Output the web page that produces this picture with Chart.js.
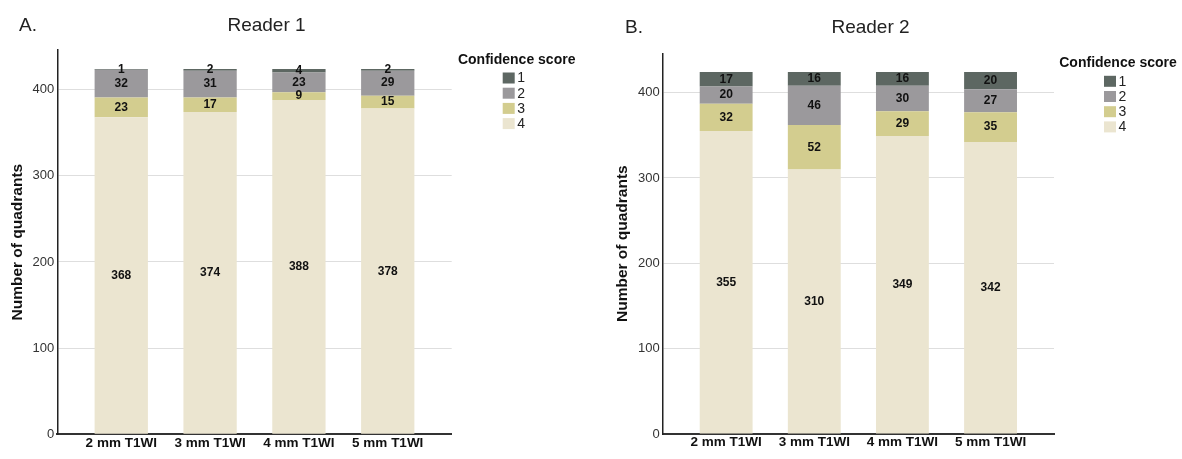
<!DOCTYPE html>
<html>
<head>
<meta charset="utf-8">
<title>Confidence score per reader</title>
<script src="https://cdn.jsdelivr.net/npm/chart.js@4.4.1/dist/chart.umd.min.js"></script>
<style>
  html, body { margin: 0; padding: 0; background: #fff; }
  body { width: 1182px; height: 459px; position: relative; overflow: hidden; }
  canvas { position: absolute; top: 0; }
  #chartReader1 { left: 0; }
  #chartReader2 { left: 605px; }
</style>
</head>
<body>
<canvas id="chartReader1" width="600" height="459"></canvas>
<canvas id="chartReader2" width="577" height="459"></canvas>
<script>
// ==================== DATOS ====================
const categories = ['2 mm T1WI', '3 mm T1WI', '4 mm T1WI', '5 mm T1WI'];
const scoreLabels = ['1', '2', '3', '4'];
const scoreColors = ['#5d6762', '#9b999c', '#d3cd8f', '#ebe5d0'];
const yTicks = [0, 100, 200, 300, 400];

// Reader 1
const r1Score1 = [1, 2, 4, 2];
const r1Score2 = [32, 31, 23, 29];
const r1Score3 = [23, 17, 9, 15];
const r1Score4 = [368, 374, 388, 378];

// Reader 2
const r2Score1 = [17, 16, 16, 20];
const r2Score2 = [20, 46, 30, 27];
const r2Score3 = [32, 52, 29, 35];
const r2Score4 = [355, 310, 349, 342];

const FONT = "'Liberation Sans', Arial, sans-serif";
Chart.defaults.font.family = FONT;

// ==================== PLUGINS ====================
// numbers inside each segment
const segmentValues = {
    id: 'segmentValues',
    afterDatasetsDraw(chart) {
        const { ctx } = chart;
        ctx.save();
        ctx.font = 'bold 12px ' + FONT;
        ctx.fillStyle = '#111';
        ctx.textAlign = 'center';
        ctx.textBaseline = 'middle';
        chart.data.datasets.forEach((ds, di) => {
            chart.getDatasetMeta(di).data.forEach((bar, i) => {
                ctx.fillText(ds.data[i].y, bar.x, (bar.y + bar.base) / 2);
            });
        });
        ctx.restore();
    }
};

// panel letter, title and the legend on the right
const panelDecor = {
    id: 'panelDecor',
    afterDraw(chart, args, opts) {
        const { ctx, chartArea } = chart;
        ctx.save();
        ctx.fillStyle = '#222';
        ctx.font = '19px ' + FONT;
        ctx.textBaseline = 'alphabetic';
        ctx.textAlign = 'left';
        ctx.fillText(opts.letter, opts.letterX, opts.baseline);
        ctx.textAlign = 'center';
        ctx.fillText(opts.title, opts.titleX, opts.baseline);

        const cx = chartArea.right + opts.legendDx;
        ctx.font = 'bold 14px ' + FONT;
        ctx.textBaseline = 'middle';
        ctx.fillStyle = '#111';
        ctx.fillText('Confidence score', cx, chartArea.top + 10);

        ctx.font = '14px ' + FONT;
        ctx.textAlign = 'left';
        chart.data.datasets.slice().reverse().forEach((ds, i) => {
            const by = chartArea.top + 22.5 + i * 15.2;
            ctx.fillStyle = ds.backgroundColor;
            ctx.fillRect(cx - 14, by, 12, 11);
            ctx.fillStyle = '#222';
            ctx.fillText(ds.label, cx + 0.5, by + 6);
        });
        ctx.restore();
    }
};

// ==================== GRÁFICOS ====================
function toPoints(values) {
    return values.map((v, i) => ({ x: i, y: v }));
}

function makeChart(canvasId, series, panel) {
    // stack order: score 4 at the bottom, score 1 on top
    const datasets = [3, 2, 1, 0].map(k => ({
        label: scoreLabels[k],
        data: toPoints(series[k]),
        backgroundColor: scoreColors[k],
        borderWidth: 0,
        categoryPercentage: 1,
        barPercentage: 0.6
    }));

    return new Chart(document.getElementById(canvasId), {
        type: 'bar',
        data: { datasets },
        plugins: [segmentValues, panelDecor],
        options: {
            responsive: false,
            animation: false,
            layout: { padding: { top: panel.top, right: panel.right, left: 0, bottom: 0 } },
            plugins: {
                legend: { display: false },
                tooltip: { enabled: false },
                panelDecor: panel
            },
            scales: {
                x: {
                    type: 'linear',
                    stacked: true,
                    offset: false,
                    min: -0.72,
                    max: 3.72,
                    z: 1,
                    afterBuildTicks: s => { s.ticks = categories.map((c, i) => ({ value: i })); },
                    afterFit: s => { s.height = panel.xHeight; },
                    grid: { display: false, drawTicks: false },
                    border: { color: '#333', width: 2 },
                    ticks: {
                        callback: v => categories[v],
                        color: '#111',
                        font: { size: 13.5, weight: 'bold' },
                        padding: 0.5,
                        maxRotation: 0,
                        autoSkip: false
                    }
                },
                y: {
                    stacked: true,
                    min: 0,
                    max: 446,
                    afterBuildTicks: s => { s.ticks = yTicks.map(v => ({ value: v })); },
                    afterFit: s => { s.width = panel.yWidth; },
                    grid: { color: '#dedede', lineWidth: 1, drawTicks: false },
                    border: { color: '#222', width: 1.5 },
                    ticks: { padding: 3, color: '#333', font: { size: 13 } },
                    title: {
                        display: true,
                        text: 'Number of quadrants',
                        color: '#111',
                        font: { size: 15.5, weight: 'bold' },
                        padding: { top: 8, bottom: 0 }
                    }
                }
            }
        }
    });
}

makeChart('chartReader1', [r1Score1, r1Score2, r1Score3, r1Score4], {
    letter: 'A.', title: 'Reader 1', letterX: 19, titleX: 266.5, baseline: 30.5,
    top: 50, right: 148.3, xHeight: 24.7, yWidth: 57.3, legendDx: 65
});

makeChart('chartReader2', [r2Score1, r2Score2, r2Score3, r2Score4], {
    letter: 'B.', title: 'Reader 2', letterX: 20, titleX: 265.5, baseline: 33,
    top: 53.3, right: 128, xHeight: 25, yWidth: 57.7, legendDx: 64
});
</script>
</body>
</html>
